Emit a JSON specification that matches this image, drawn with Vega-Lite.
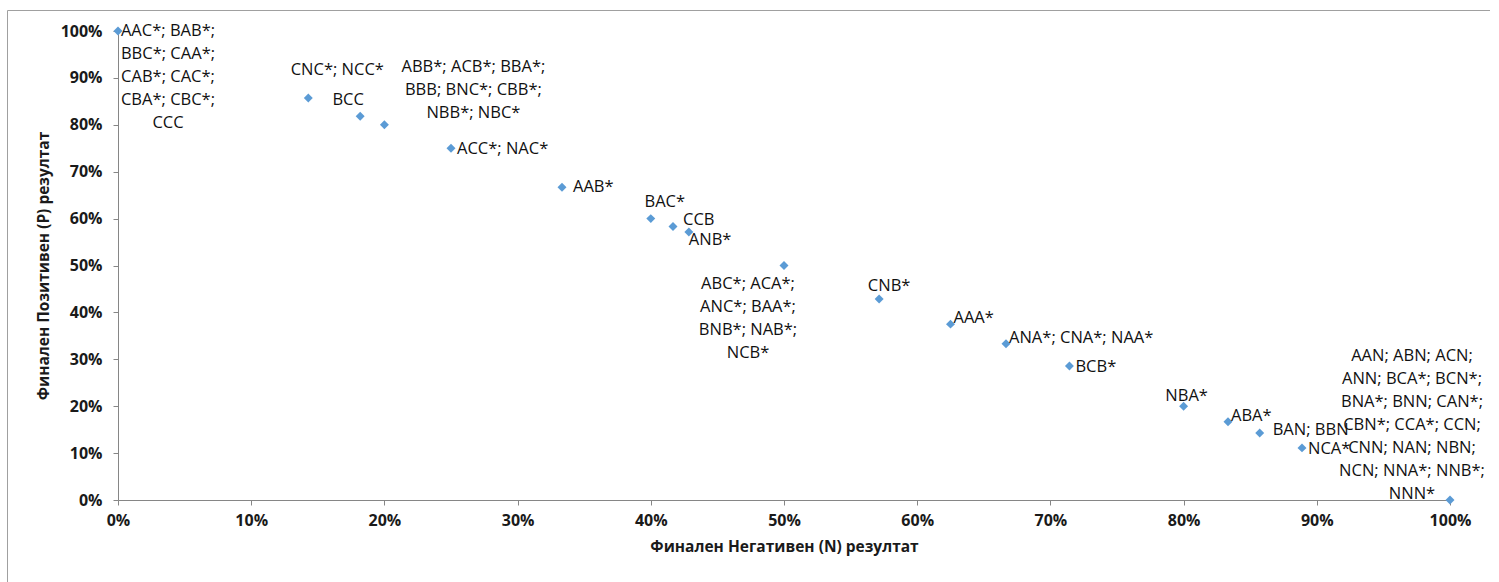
{
  "$schema": "https://vega.github.io/schema/vega-lite/v6.json",
  "autosize": {"type": "none"},
  "width": 1483,
  "height": 575,
  "padding": {"left": 7, "top": 10, "right": 0, "bottom": 0},
  "background": "white",
  "config": {
    "view": {"stroke": "#A0A0A0", "strokeWidth": 1},
    "font": "Open Sans",
    "text": {"font": "Open Sans", "fontSize": 16.5, "lineHeight": 23, "lineBreak": "\n", "color": "#111111"}
  },
  "data": {
    "values": [
      {"n": 0, "p": 1, "label": "AAC*; BAB*;\nBBC*; CAA*;\nCAB*; CAC*;\nCBA*; CBC*;\nCCC"},
      {"n": 0.142857, "p": 0.857143, "label": "CNC*; NCC*"},
      {"n": 0.181818, "p": 0.818182, "label": "BCC"},
      {"n": 0.2, "p": 0.8, "label": "ABB*; ACB*; BBA*;\nBBB; BNC*; CBB*;\nNBB*; NBC*"},
      {"n": 0.25, "p": 0.75, "label": "ACC*; NAC*"},
      {"n": 0.333333, "p": 0.666667, "label": "AAB*"},
      {"n": 0.4, "p": 0.6, "label": "BAC*"},
      {"n": 0.416667, "p": 0.583333, "label": "CCB"},
      {"n": 0.428571, "p": 0.571429, "label": "ANB*"},
      {"n": 0.5, "p": 0.5, "label": "ABC*; ACA*;\nANC*; BAA*;\nBNB*; NAB*;\nNCB*"},
      {"n": 0.571429, "p": 0.428571, "label": "CNB*"},
      {"n": 0.625, "p": 0.375, "label": "AAA*"},
      {"n": 0.666667, "p": 0.333333, "label": "ANA*; CNA*; NAA*"},
      {"n": 0.714286, "p": 0.285714, "label": "BCB*"},
      {"n": 0.8, "p": 0.2, "label": "NBA*"},
      {"n": 0.833333, "p": 0.166667, "label": "ABA*"},
      {"n": 0.857143, "p": 0.142857, "label": "BAN; BBN"},
      {"n": 0.888889, "p": 0.111111, "label": "NCA*"},
      {"n": 1, "p": 0, "label": "AAN; ABN; ACN;\nANN; BCA*; BCN*;\nBNA*; BNN; CAN*;\nCBN*; CCA*; CCN;\nCNN; NAN; NBN;\nNCN; NNA*; NNB*;\nNNN*"}
    ]
  },
  "encoding": {
    "x": {
      "field": "n", "type": "quantitative",
      "scale": {"domain": [0, 1], "range": [111, 1443], "nice": false, "zero": false},
      "axis": {
        "title": "Финален Негативен (N) резултат",
        "format": ".0%", "values": [0, 0.1, 0.2, 0.3, 0.4, 0.5, 0.6, 0.7, 0.8, 0.9, 1],
        "offset": -85, "grid": false,
        "domainColor": "#868686", "tickColor": "#868686", "tickSize": 5,
        "labelFont": "Open Sans", "labelFontWeight": "bold", "labelFontSize": 16, "labelColor": "#1a1a1a",
        "labelPadding": 7, "labelFlush": false,
        "titleFont": "Open Sans", "titleFontWeight": "bold", "titleFontSize": 15.5, "titleColor": "#1a1a1a",
        "titlePadding": 11
      }
    },
    "y": {
      "field": "p", "type": "quantitative",
      "scale": {"domain": [0, 1], "range": [490, 21], "nice": false, "zero": false},
      "axis": {
        "title": "Финален Позитивен (P) резултат",
        "format": ".0%", "values": [0, 0.1, 0.2, 0.3, 0.4, 0.5, 0.6, 0.7, 0.8, 0.9, 1],
        "offset": -111, "grid": false,
        "domainColor": "#868686", "tickColor": "#868686", "tickSize": 5,
        "labelFont": "Open Sans", "labelFontWeight": "bold", "labelFontSize": 16, "labelColor": "#1a1a1a",
        "labelPadding": 11, "labelFlush": false,
        "titleFont": "Open Sans", "titleFontWeight": "bold", "titleFontSize": 15.5, "titleColor": "#1a1a1a",
        "titlePadding": 9
      }
    }
  },
  "layer": [
    {"mark": {"type": "point", "shape": "diamond", "filled": true, "size": 80, "color": "#5B9BD5", "opacity": 1}},
    {"transform": [{"filter": {"field": "n", "equal": 0}}],
     "mark": {"type": "text", "align": "center", "baseline": "middle", "dx": 50, "dy": 0},
     "encoding": {"text": {"field": "label"}}},
    {"transform": [{"filter": {"field": "label", "equal": "CNC*; NCC*"}}],
     "mark": {"type": "text", "align": "center", "baseline": "middle", "dx": 29, "dy": -28},
     "encoding": {"text": {"field": "label"}}},
    {"transform": [{"filter": {"field": "label", "equal": "BCC"}}],
     "mark": {"type": "text", "align": "center", "baseline": "middle", "dx": -12, "dy": -16},
     "encoding": {"text": {"field": "label"}}},
    {"transform": [{"filter": {"field": "n", "equal": 0.2}}],
     "mark": {"type": "text", "align": "center", "baseline": "middle", "dx": 89, "dy": -58},
     "encoding": {"text": {"field": "label"}}},
    {"transform": [{"filter": {"field": "label", "oneOf": ["ACC*; NAC*", "BCB*", "NCA*"]}}],
     "mark": {"type": "text", "align": "left", "baseline": "middle", "dx": 6, "dy": 1},
     "encoding": {"text": {"field": "label"}}},
    {"transform": [{"filter": {"field": "label", "equal": "AAB*"}}],
     "mark": {"type": "text", "align": "left", "baseline": "middle", "dx": 11, "dy": 0},
     "encoding": {"text": {"field": "label"}}},
    {"transform": [{"filter": {"field": "label", "equal": "BAC*"}}],
     "mark": {"type": "text", "align": "center", "baseline": "middle", "dx": 14, "dy": -17},
     "encoding": {"text": {"field": "label"}}},
    {"transform": [{"filter": {"field": "label", "equal": "CCB"}}],
     "mark": {"type": "text", "align": "left", "baseline": "middle", "dx": 10, "dy": -6},
     "encoding": {"text": {"field": "label"}}},
    {"transform": [{"filter": {"field": "label", "equal": "ANB*"}}],
     "mark": {"type": "text", "align": "left", "baseline": "middle", "dx": 0, "dy": 8},
     "encoding": {"text": {"field": "label"}}},
    {"transform": [{"filter": {"field": "n", "equal": 0.5}}],
     "mark": {"type": "text", "align": "center", "baseline": "middle", "dx": -36, "dy": 18},
     "encoding": {"text": {"field": "label"}}},
    {"transform": [{"filter": {"field": "label", "equal": "CNB*"}}],
     "mark": {"type": "text", "align": "center", "baseline": "middle", "dx": 10, "dy": -13},
     "encoding": {"text": {"field": "label"}}},
    {"transform": [{"filter": {"field": "label", "oneOf": ["AAA*", "ANA*; CNA*; NAA*", "ABA*"]}}],
     "mark": {"type": "text", "align": "left", "baseline": "middle", "dx": 3, "dy": -6},
     "encoding": {"text": {"field": "label"}}},
    {"transform": [{"filter": {"field": "label", "equal": "NBA*"}}],
     "mark": {"type": "text", "align": "center", "baseline": "middle", "dx": 3, "dy": -10},
     "encoding": {"text": {"field": "label"}}},
    {"transform": [{"filter": {"field": "label", "equal": "BAN; BBN"}}],
     "mark": {"type": "text", "align": "left", "baseline": "middle", "dx": 13, "dy": -3},
     "encoding": {"text": {"field": "label"}}},
    {"transform": [{"filter": {"field": "n", "equal": 1}}],
     "mark": {"type": "text", "align": "center", "baseline": "middle", "dx": -38, "dy": -144},
     "encoding": {"text": {"field": "label"}}}
  ]
}
